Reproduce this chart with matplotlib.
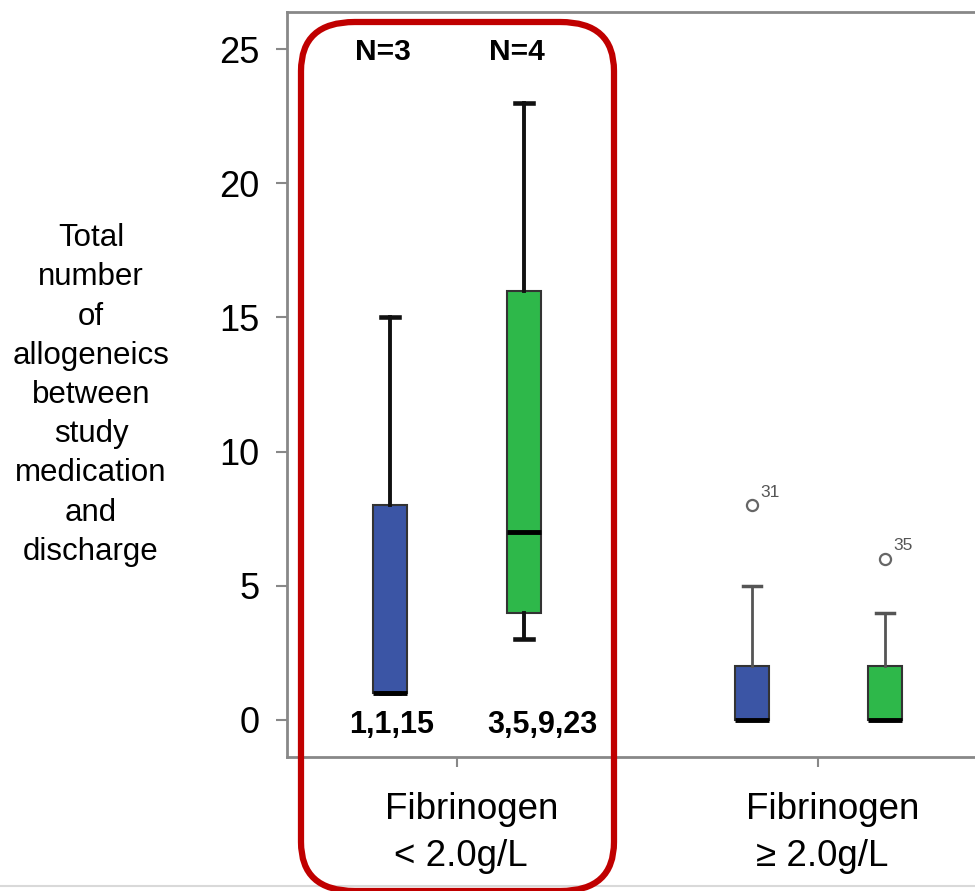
import matplotlib
matplotlib.use('Agg')
import matplotlib.pyplot as plt
from matplotlib.patches import FancyBboxPatch
from matplotlib.lines import Line2D

plt.rcParams['font.family'] = ['Liberation Sans', 'DejaVu Sans']

# box statistics
groups = ['Fibrinogen\n< 2.0g/L', 'Fibrinogen\n≥ 2.0g/L']
q1 = [1, 4, 0, 0]
med = [1, 7, 0, 0]
q3 = [8, 16, 2, 2]
wlo = [1, 3, 0, 0]
whi = [15, 23, 5, 4]
fliers = [[], [], [8], [6]]
flier_ids = [[], [], ['31'], ['35']]
n_labels = ['N=3', 'N=4']
raw_labels = ['1,1,15', '3,5,9,23']
colors = ['#3b55a5', '#2eb84a', '#3b55a5', '#2eb84a']
positions = [0.815, 1.185, 1.815, 2.185]

W, H = 975, 891
fig = plt.figure(figsize=(W / 100, H / 100), dpi=100)
ax = fig.add_axes([287 / W, (H - 757) / H, (990 - 287) / W, (757 - 12) / H])

stats = []
for i in range(4):
    stats.append(dict(q1=q1[i], med=med[i], q3=q3[i], whislo=wlo[i],
                      whishi=whi[i], fliers=fliers[i]))

for sl, wcol, lw in [(slice(0, 2), '#111111', 2.8), (slice(2, 4), '#555555', 2.0)]:
    b = ax.bxp(stats[sl], positions=positions[sl], widths=0.094, patch_artist=True,
               capwidths=0.05, manage_ticks=False,
               boxprops=dict(edgecolor='#333333', linewidth=1.5),
               whiskerprops=dict(color=wcol, linewidth=lw),
               capprops=dict(color=wcol, linewidth=lw + 0.5),
               medianprops=dict(color='black', linewidth=3.5),
               flierprops=dict(marker='o', markerfacecolor='none',
                               markeredgecolor='#666666', markersize=8,
                               markeredgewidth=1.6))
    for patch, c in zip(b['boxes'], colors[sl]):
        patch.set_facecolor(c)

# outlier case numbers
for p, fl, ids in zip(positions, fliers, flier_ids):
    for v, t in zip(fl, ids):
        ax.annotate(t, (p, v), xytext=(6, 4), textcoords='offset points',
                    fontsize=12.5, color='#555555', va='bottom', ha='left')

ax.set_xlim(0.529, 2.475)
ax.set_ylim(-1.38, 26.38)
ax.set_yticks([0, 5, 10, 15, 20, 25])
ax.set_xticks([1, 2])
ax.set_xticklabels(['', ''])
ax.tick_params(axis='y', labelsize=26, length=8, width=1.5, color='#888888', pad=12)
ax.tick_params(axis='x', length=7, width=1.5, color='#888888')
for s in ax.spines.values():
    s.set_color('#888888')
    s.set_linewidth(2)

# group labels under the axis
for x, g in zip([1, 2], groups):
    first, second = g.split('\n')
    ax.text(x + 0.04, -3.35, first, fontsize=26.5, ha='center', va='center', clip_on=False)
    ax.text(x + 0.01, -5.1, second, fontsize=26.5, ha='center', va='center', clip_on=False)

# N counts and raw values for the low-fibrinogen group
for p, t in zip(positions[:2], n_labels):
    ax.text(p - 0.02, 24.9, t, fontsize=21.5, fontweight='bold', ha='center', va='center')
for p, t in zip(positions[:2], raw_labels):
    ax.text(p + 0.005 if p < 1 else p + 0.05, -0.2, t, fontsize=22,
            fontweight='bold', ha='center', va='center')

fig.text(91 / W, 1 - 395 / H,
         'Total\nnumber\nof\nallogeneics\nbetween\nstudy\nmedication\nand\ndischarge',
         fontsize=22.5, ha='center', va='center', linespacing=1.4)

# red highlight frame around the low-fibrinogen group
frame = FancyBboxPatch((301 / W, 0 / H), (614 - 301) / W, (H - 22) / H - 0 / H,
                       boxstyle='round,pad=0,rounding_size=0.055',
                       transform=fig.transFigure, fill=False,
                       edgecolor='#c00000', linewidth=4.5, zorder=10)
fig.patches.append(frame)

fig.lines.append(Line2D([0, 1], [1 - 886 / H] * 2, transform=fig.transFigure,
                        color='#d9d9d9', linewidth=1.5))

fig.savefig('out.png', dpi=100)
